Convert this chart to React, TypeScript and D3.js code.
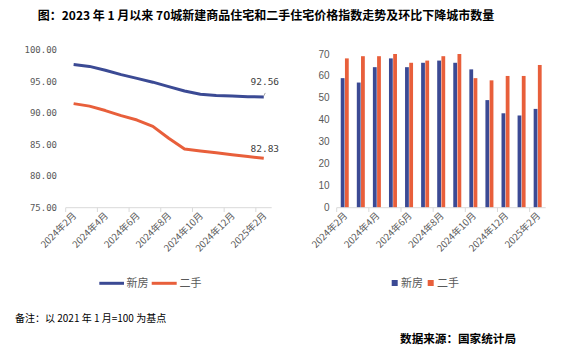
import React from 'react';
import * as d3 from 'd3';

// 月份（2024年2月 - 2025年2月）
const months: string[] = [
  '2024年2月', '2024年3月', '2024年4月', '2024年5月', '2024年6月', '2024年7月', '2024年8月',
  '2024年9月', '2024年10月', '2024年11月', '2024年12月', '2025年1月', '2025年2月',
];
// 价格指数（2021年1月=100）
const newIndex: number[] = [97.7, 97.4, 96.8, 96.1, 95.5, 94.9, 94.2, 93.5, 93.0, 92.8, 92.7, 92.6, 92.56];
const oldIndex: number[] = [91.5, 91.1, 90.4, 89.6, 88.9, 87.9, 86.0, 84.3, 84.0, 83.7, 83.4, 83.1, 82.83];
// 环比下降城市数量
const newDown: number[] = [59, 57, 64, 68, 64, 66, 67, 66, 63, 49, 43, 42, 45];
const oldDown: number[] = [68, 69, 69, 70, 66, 67, 69, 70, 59, 58, 60, 60, 65];
const seriesNames: string[] = ['新房', '二手'];
const lineTicks: number[] = [75, 80, 85, 90, 95, 100];
const barTicks: number[] = [0, 10, 20, 30, 40, 50, 60, 70];

const BLUE = '#3B4A94';
const ORANGE = '#E85F3B';
const AXIS = '#D9D9D9';
const LABEL = '#595959';
const CJK = '"Noto Sans CJK SC", "Noto Sans", sans-serif';

const App: React.FC = () => {
  const width = 568;
  const height = 351;

  // 左图：价格指数折线
  const xL = d3.scaleBand<string>().domain(months).range([65.7, 271.7]);
  const yL = d3.scaleLinear().domain([75, 100]).range([207.7, 50]);
  const cx = (m: string) => xL(m)! + xL.bandwidth() / 2;
  const line = d3.line<number>()
    .x((_, i) => cx(months[i]))
    .y((d) => yL(d));

  // 右图：下降城市数量柱状
  const xR = d3.scaleBand<string>().domain(months).range([336.7, 545.7]);
  const xS = d3.scaleBand<string>().domain(seriesNames).range([-4, 4]).paddingInner(0.1);
  const yR = d3.scaleLinear().domain([0, 70]).range([207.7, 54]);
  const bars = [newDown, oldDown];
  const colors = [BLUE, ORANGE];

  const labelMonths = months.filter((_, i) => i % 2 === 0);
  const tickIdx = [0, 2, 4, 6, 8, 10, 12];

  const last = months.length - 1;

  return (
    <svg width={width} height={height} style={{ position: 'absolute', left: 0, top: 0, background: '#fff' }}>
      {/* 标题 */}
      <text x={266} y={16} dy="0.35em" textAnchor="middle" fontFamily={CJK} fontWeight="bold" fontSize={12} fill="#000">
        图：2023 年 1 月以来 70城新建商品住宅和二手住宅价格指数走势及环比下降城市数量
      </text>

      {/* 左图 y 轴标签 */}
      {lineTicks.map((t) => (
        <text key={t} x={57} y={yL(t)} dy="0.35em" textAnchor="end" fontFamily='"DejaVu Sans Mono", monospace' fontSize={9} fill={LABEL}>
          {t.toFixed(2)}
        </text>
      ))}
      {/* 左图 x 轴 */}
      <line x1={65.7} x2={271.7} y1={207.7} y2={207.7} stroke={AXIS} />
      {tickIdx.map((i) => (
        <line key={i} x1={xL(months[i])} x2={xL(months[i])} y1={207.7} y2={212} stroke={AXIS} />
      ))}
      {labelMonths.map((m) => (
        <text key={m} transform={`translate(${cx(m) + 1},${214}) rotate(-45)`} dy="0.35em" textAnchor="end" fontFamily={CJK} fontSize={9.5} fill={LABEL}>
          {m}
        </text>
      ))}
      {/* 折线 */}
      <path d={line(newIndex)!} fill="none" stroke={BLUE} strokeWidth={3} strokeLinejoin="round" />
      <path d={line(oldIndex)!} fill="none" stroke={ORANGE} strokeWidth={3} strokeLinejoin="round" />
      <line x1={cx(months[last])} y1={yL(newIndex[last]) - 1} x2={cx(months[last]) + 1.5} y2={yL(newIndex[last]) - 4} stroke="#A6A6A6" />
      <text x={cx(months[last]) + 1} y={yL(newIndex[last]) - 15} dy="0.35em" textAnchor="middle" fontFamily='"DejaVu Sans Mono", monospace' fontSize={9.5} fill="#404040">
        {newIndex[last].toFixed(2)}
      </text>
      <text x={cx(months[last]) + 1} y={yL(oldIndex[last]) - 10} dy="0.35em" textAnchor="middle" fontFamily='"DejaVu Sans Mono", monospace' fontSize={9.5} fill="#404040">
        {oldIndex[last].toFixed(2)}
      </text>
      {/* 左图图例 */}
      <line x1={99.3} x2={124} y1={283.3} y2={283.3} stroke={BLUE} strokeWidth={3} />
      <text x={126.5} y={283.3} dy="0.35em" fontFamily={CJK} fontSize={11} fill={LABEL}>{seriesNames[0]}</text>
      <line x1={151.7} x2={176.7} y1={283.3} y2={283.3} stroke={ORANGE} strokeWidth={3} />
      <text x={179.5} y={283.3} dy="0.35em" fontFamily={CJK} fontSize={11} fill={LABEL}>{seriesNames[1]}</text>

      {/* 右图 y 轴标签 */}
      {barTicks.map((t) => (
        <text key={t} x={329.5} y={yR(t)} dy="0.35em" textAnchor="end" fontFamily='"Liberation Sans", Arial, sans-serif' fontSize={10} fill={LABEL}>
          {t}
        </text>
      ))}
      {/* 柱 */}
      {bars.map((vals, s) =>
        vals.map((v, i) => {
          const gx = xR(months[i])! + xR.bandwidth() / 2;
          return (
            <rect key={`${s}-${i}`} x={gx + xS(seriesNames[s])!} y={yR(v)} width={xS.bandwidth()} height={yR(0) - yR(v)} fill={colors[s]} />
          );
        })
      )}
      {/* 右图 x 轴 */}
      <line x1={336.7} x2={545.7} y1={207.7} y2={207.7} stroke={AXIS} />
      {tickIdx.map((i) => (
        <line key={i} x1={xR(months[i])} x2={xR(months[i])} y1={207.7} y2={212} stroke={AXIS} />
      ))}
      {labelMonths.map((m) => (
        <text key={m} transform={`translate(${xR(m)! + xR.bandwidth() / 2 + 1},${214}) rotate(-45)`} dy="0.35em" textAnchor="end" fontFamily={CJK} fontSize={9.5} fill={LABEL}>
          {m}
        </text>
      ))}
      {/* 右图图例 */}
      <rect x={391.7} y={280} width={6} height={6} fill={BLUE} />
      <text x={401} y={283.3} dy="0.35em" fontFamily={CJK} fontSize={11} fill={LABEL}>{seriesNames[0]}</text>
      <rect x={427.7} y={280} width={6} height={6} fill={ORANGE} />
      <text x={437} y={283.3} dy="0.35em" fontFamily={CJK} fontSize={11} fill={LABEL}>{seriesNames[1]}</text>

      {/* 脚注 */}
      <text x={15} y={318.3} dy="0.35em" fontFamily={CJK} fontSize={10} fill="#000">
        备注：以 2021 年 1 月=100 为基点
      </text>
      <text x={516} y={339.3} dy="0.35em" textAnchor="end" fontFamily={CJK} fontWeight="bold" fontSize={11.6} fill="#000">
        数据来源：国家统计局
      </text>
    </svg>
  );
};

export default App;
